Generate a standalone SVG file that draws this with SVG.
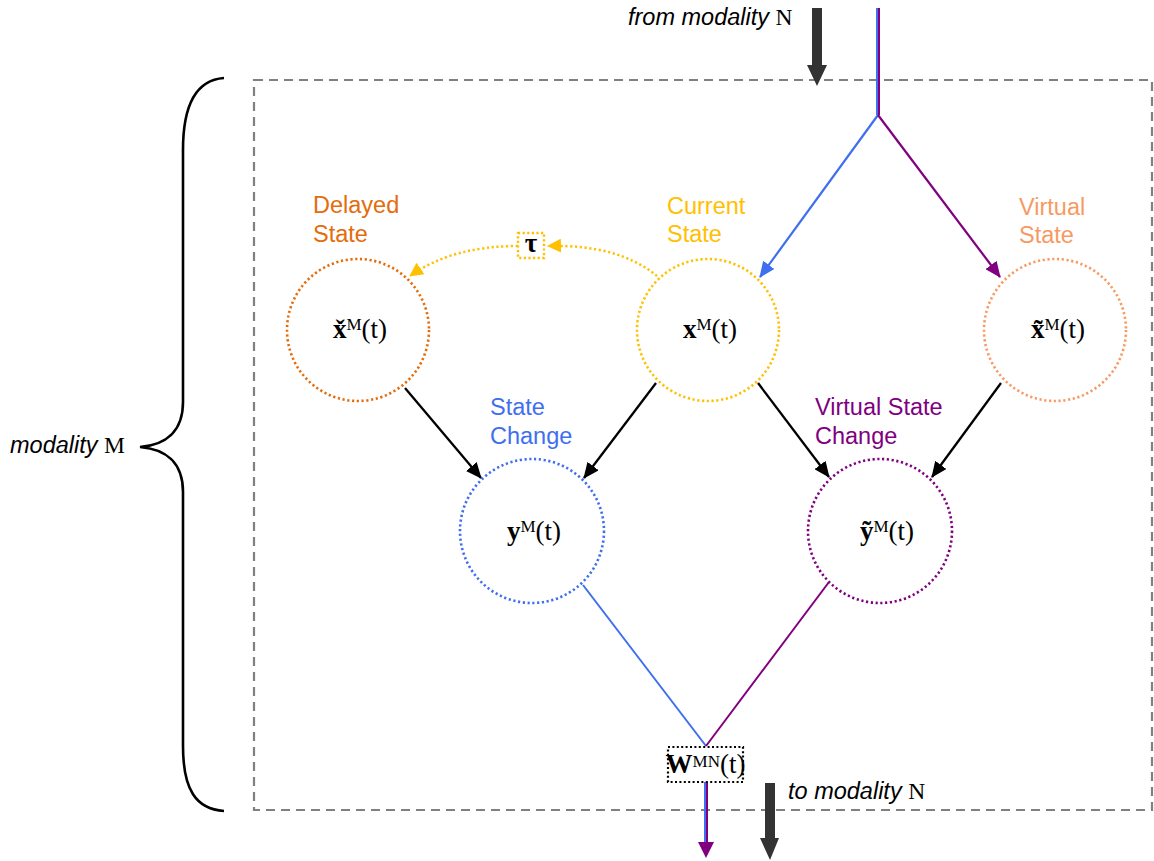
<svg xmlns="http://www.w3.org/2000/svg" width="1154" height="861" viewBox="0 0 1154 861">
  <style>
    .lbl { font-family: "Liberation Sans", Arial, sans-serif; font-size: 23.5px; }
    .ital { font-family: "Liberation Sans", Arial, sans-serif; font-style: italic; font-size: 23.5px; fill: #000; }
    .rm { font-family: "Liberation Serif", "Times New Roman", serif; font-style: normal; }
    .math { font-family: "Liberation Serif", "DejaVu Serif", "Times New Roman", serif; font-size: 27px; fill: #000; }
    .b { font-weight: bold; }
    .sup { font-size: 17px; }
    .node { fill: none; stroke-width: 2.6; stroke-dasharray: 2.2 2.6; }
    .blk { stroke: #000; stroke-width: 2.3; fill: none; }
  </style>
  <defs>
    <marker id="ahBlack" markerUnits="userSpaceOnUse" markerWidth="16" markerHeight="14" viewBox="0 0 16 14" refX="15" refY="7" orient="auto">
      <path d="M0,0 L16,7 L0,14 Z" fill="#000"/>
    </marker>
    <marker id="ahBlue" markerUnits="userSpaceOnUse" markerWidth="16" markerHeight="14" viewBox="0 0 16 14" refX="15" refY="7" orient="auto">
      <path d="M0,0 L16,7 L0,14 Z" fill="#3F6FEF"/>
    </marker>
    <marker id="ahPurple" markerUnits="userSpaceOnUse" markerWidth="16" markerHeight="14" viewBox="0 0 16 14" refX="15" refY="7" orient="auto">
      <path d="M0,0 L16,7 L0,14 Z" fill="#800080"/>
    </marker>
    <marker id="ahYellow" markerUnits="userSpaceOnUse" markerWidth="14" markerHeight="14" viewBox="0 0 14 14" refX="13" refY="7" orient="auto">
      <path d="M0,0 L14,7 L0,14 Z" fill="#FFC000"/>
    </marker>
  </defs>

  <rect width="1154" height="861" fill="#fff"/>

  <!-- modality M boundary -->
  <rect x="254" y="80" width="898" height="730" fill="none" stroke="#808080" stroke-width="2.2" stroke-dasharray="9 6"/>

  <!-- curly brace spanning modality M -->
  <path d="M224,78 C196,80 183,105 183,150 L183,402 C183,432 165,445 140,447 C165,449 183,462 183,492 L183,746 C183,790 196,809 224,811" fill="none" stroke="#000" stroke-width="2.6"/>
  <text class="ital" x="10" y="453">modality <tspan class="rm">M</tspan></text>

  <!-- external flow arrows -->
  <g id="external">
    <path d="M812,8 L822,8 L822,65 L827,65 L817,86 L807,65 L812,65 Z" fill="#333"/>
    <text class="ital" x="628" y="25">from modality <tspan class="rm">N</tspan></text>
    <path d="M765,783 L775,783 L775,838 L779,838 L770,860 L760,838 L765,838 Z" fill="#333"/>
    <text class="ital" x="788" y="799">to modality <tspan class="rm">N</tspan></text>
  </g>

  <!-- connectors -->
  <g id="connectors">
    <!-- incoming signal from modality N -->
    <line x1="877" y1="8" x2="877" y2="115" stroke="#3F6FEF" stroke-width="2"/>
    <line x1="879" y1="8" x2="879" y2="115" stroke="#800080" stroke-width="2"/>
    <line x1="878" y1="115" x2="760" y2="277" stroke="#3F6FEF" stroke-width="2.2" marker-end="url(#ahBlue)"/>
    <line x1="878" y1="115" x2="1000" y2="277" stroke="#800080" stroke-width="2.2" marker-end="url(#ahPurple)"/>

    <!-- delay loop -->
    <path d="M657,276 Q618,244 548,246" fill="none" stroke="#FFC000" stroke-width="2.5" stroke-dasharray="2.2 2.6" marker-end="url(#ahYellow)"/>
    <path d="M518,246 Q452,246 410,276" fill="none" stroke="#FFC000" stroke-width="2.5" stroke-dasharray="2.2 2.6" marker-end="url(#ahYellow)"/>

    <!-- state change inputs -->
    <line class="blk" x1="405" y1="388" x2="481" y2="478" marker-end="url(#ahBlack)"/>
    <line class="blk" x1="656" y1="383" x2="584" y2="478" marker-end="url(#ahBlack)"/>
    <line class="blk" x1="758" y1="383" x2="829" y2="477" marker-end="url(#ahBlack)"/>
    <line class="blk" x1="1001" y1="383" x2="932" y2="477" marker-end="url(#ahBlack)"/>

    <!-- outputs merging into the weight -->
    <line x1="583" y1="585" x2="706" y2="746" stroke="#3F6FEF" stroke-width="2"/>
    <line x1="829" y1="582" x2="706" y2="746" stroke="#800080" stroke-width="2"/>

    <!-- outgoing signal to modality N -->
    <line x1="705" y1="782" x2="705" y2="846" stroke="#3F6FEF" stroke-width="2"/>
    <line x1="707" y1="782" x2="707" y2="846" stroke="#800080" stroke-width="2"/>
    <path d="M698,842 L714,842 L706,858 Z" fill="#800080"/>
  </g>

  <!-- delayed state -->
  <g id="delayed">
    <circle class="node" cx="358" cy="330" r="71" stroke="#E46C0A"/>
    <text class="lbl" x="313" y="213" fill="#E46C0A">Delayed</text>
    <text class="lbl" x="313" y="242" fill="#E46C0A">State</text>
    <text class="math" x="360" y="338" text-anchor="middle"><tspan class="b">x̌</tspan><tspan class="sup" dy="-8">M</tspan><tspan dy="8">(t)</tspan></text>
  </g>

  <!-- tau delay element -->
  <g id="tau">
    <rect x="518" y="233" width="26" height="25" fill="#fff" stroke="#FFC000" stroke-width="2.4" stroke-dasharray="2.2 2.4"/>
    <text class="math b" x="531" y="252" text-anchor="middle" font-size="19">τ</text>
  </g>

  <!-- current state -->
  <g id="current">
    <circle class="node" cx="708" cy="330" r="71" stroke="#FFC000"/>
    <text class="lbl" x="667" y="214" fill="#FFC000">Current</text>
    <text class="lbl" x="667" y="242" fill="#FFC000">State</text>
    <text class="math" x="710" y="338" text-anchor="middle"><tspan class="b">x</tspan><tspan class="sup" dy="-8">M</tspan><tspan dy="8">(t)</tspan></text>
  </g>

  <!-- virtual state -->
  <g id="virtual">
    <circle class="node" cx="1055" cy="330" r="71" stroke="#F79A62"/>
    <text class="lbl" x="1019" y="215" fill="#F79A62">Virtual</text>
    <text class="lbl" x="1019" y="243" fill="#F79A62">State</text>
    <text class="math" x="1058" y="338" text-anchor="middle"><tspan class="b">x̃</tspan><tspan class="sup" dy="-8">M</tspan><tspan dy="8">(t)</tspan></text>
  </g>

  <!-- state change -->
  <g id="stateChange">
    <circle class="node" cx="532" cy="531" r="72" stroke="#3F6FEF"/>
    <text class="lbl" x="490" y="415" fill="#3F6FEF">State</text>
    <text class="lbl" x="490" y="444" fill="#3F6FEF">Change</text>
    <text class="math" x="534" y="540" text-anchor="middle"><tspan class="b">y</tspan><tspan class="sup" dy="-8">M</tspan><tspan dy="8">(t)</tspan></text>
  </g>

  <!-- virtual state change -->
  <g id="virtualChange">
    <circle class="node" cx="880" cy="531" r="72" stroke="#800080"/>
    <text class="lbl" x="815" y="415" fill="#800080">Virtual State</text>
    <text class="lbl" x="815" y="444" fill="#800080">Change</text>
    <text class="math" x="887" y="540" text-anchor="middle"><tspan class="b">ỹ</tspan><tspan class="sup" dy="-8">M</tspan><tspan dy="8">(t)</tspan></text>
  </g>

  <!-- inter-modal weight -->
  <g id="weight">
    <rect x="668" y="747" width="75" height="35" fill="#fff" stroke="#000" stroke-width="2.2" stroke-dasharray="2 2.4"/>
    <text class="math" x="705.5" y="773" text-anchor="middle" font-size="21"><tspan class="b">W</tspan><tspan class="sup" font-size="13" dy="-6">MN</tspan><tspan dy="6">(t)</tspan></text>
  </g>
</svg>
